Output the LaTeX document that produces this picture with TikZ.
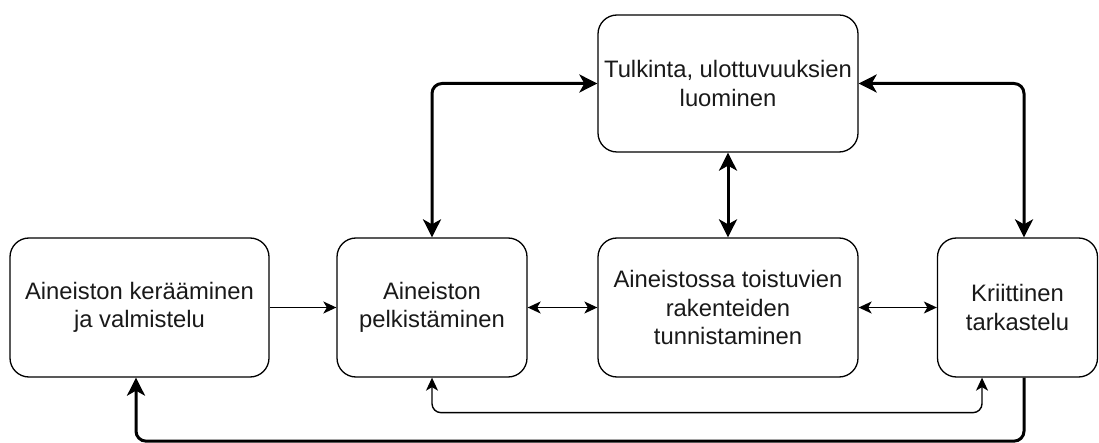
\documentclass[tikz,border=0pt]{standalone}
\usepackage{fontspec}
\setmainfont{Liberation Sans}
\usetikzlibrary{arrows.meta}
\begin{document}
\begin{tikzpicture}[x=1pt,y=-1pt,
  box/.style={draw=black,line width=1.3pt,rounded corners=19pt,inner sep=0pt,
    align=center,font=\fontsize{23.8}{28.6}\selectfont,text=black!90},
  thinarr/.style={line width=1.4pt,rounded corners=9pt,
    arrows={-Stealth[length=13pt,width=12pt,inset=3.5pt]}},
  thinboth/.style={thinarr,arrows={Stealth[length=13pt,width=12pt,inset=3.5pt]-Stealth[length=13pt,width=12pt,inset=3.5pt]}},
  thickboth/.style={line width=3pt,rounded corners=10pt,
    arrows={Stealth[length=18pt,width=18pt,inset=5pt]-Stealth[length=18pt,width=18pt,inset=5pt]}},
  thickarr/.style={line width=3pt,rounded corners=10pt,
    arrows={-Stealth[length=18pt,width=18pt,inset=5pt]}}]
\useasboundingbox (0,0) rectangle (1099,443);
\node[box,minimum width=259pt,minimum height=139pt] (A) at (139.5,307.5) {Aineiston kerääminen\\ja valmistelu};
\node[box,minimum width=190pt,minimum height=139pt] (B) at (432,307.5) {Aineiston\\pelkistäminen};
\node[box,minimum width=260pt,minimum height=139pt] (C) at (728,307.5) {Aineistossa toistuvien\\rakenteiden\\tunnistaminen};
\node[box,minimum width=160pt,minimum height=139pt] (D) at (1017.5,307.5) {Kriittinen\\tarkastelu};
\node[box,minimum width=260pt,minimum height=137pt] (E) at (728,83.5) {Tulkinta, ulottuvuuksien\\luominen};
\draw[thinarr] (A.east) -- (B.west);
\draw[thinboth] (B.east) -- (C.west);
\draw[thinboth] (C.east) -- (D.west);
\draw[thickboth] (E.south) -- (C.north);
\draw[thickboth] (B.north) |- (E.west);
\draw[thickboth] (E.east) -| ([xshift=6.5pt]D.north);
\draw[thinboth] (B.south) -- ++(0,35) -| ([xshift=-35.5pt]D.south);
\draw[thickarr] ([xshift=6.5pt]D.south) -- ++(0,63.5) -| ([xshift=-3.5pt]A.south);
\end{tikzpicture}
\end{document}
